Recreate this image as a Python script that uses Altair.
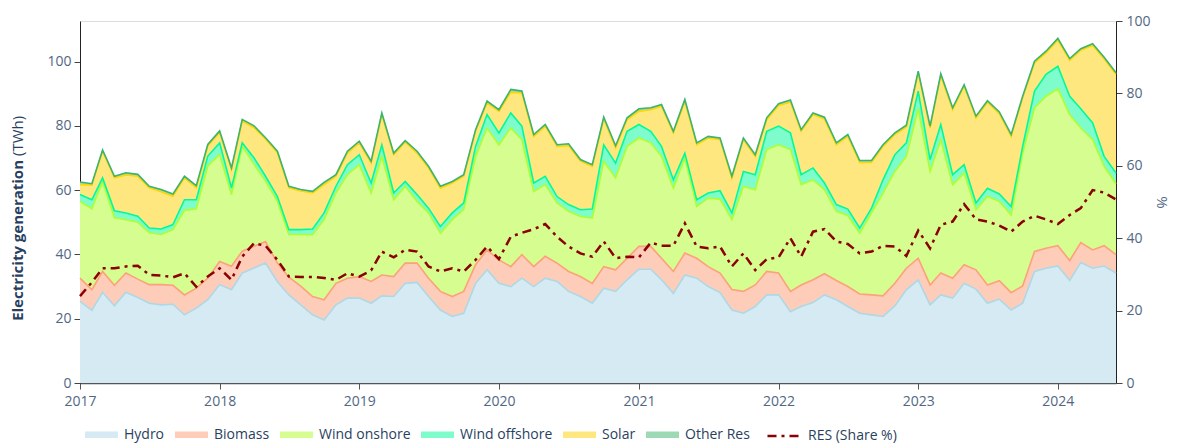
import altair as alt
import pandas as pd

months = pd.date_range("2017-01-01", "2024-06-01", freq="MS").strftime("%Y-%m-%d").tolist()

hydro = [25.4, 22.6, 28.2, 24.0, 28.2, 26.6, 24.8, 24.3, 24.5, 21.2, 23.3, 25.9,
         30.6, 29.0, 34.2, 35.8, 37.3, 31.5, 27.4, 24.3, 21.2, 19.6, 24.3, 26.4,
         26.4, 24.8, 27.1, 26.9, 31.0, 31.3, 26.9, 22.7, 20.7, 21.7, 31.0, 35.2,
         31.0, 30.0, 32.6, 30.0, 32.6, 31.6, 28.5, 26.9, 24.8, 29.5, 28.5, 32.1,
         35.4, 35.4, 32.1, 27.9, 33.6, 32.6, 30.0, 28.1, 22.7, 21.7, 23.8, 27.4,
         27.4, 22.2, 23.8, 25.0, 27.4, 25.9, 23.8, 21.7, 21.2, 20.7, 24.0, 29.0,
         32.1, 24.3, 27.4, 26.4, 31.0, 29.2, 24.8, 26.1, 22.7, 24.8, 34.7, 35.7,
         36.4, 31.9, 37.5, 35.7, 36.4, 34.2]
biomass = [7.2, 6.4, 6.5, 6.4, 6.0, 5.7, 5.8, 6.3, 5.9, 6.2, 6.2, 6.7,
           7.2, 7.3, 6.8, 6.7, 6.7, 5.8, 5.5, 5.8, 5.7, 6.3, 6.7, 6.2,
           6.7, 6.8, 6.5, 6.2, 6.3, 6.0, 5.7, 5.8, 6.2, 6.8, 5.8, 6.2,
           7.3, 6.2, 7.3, 6.2, 6.8, 5.7, 6.2, 6.2, 6.2, 6.7, 6.7, 6.7,
           7.1, 7.1, 6.7, 6.8, 6.8, 6.2, 6.2, 6.1, 6.4, 6.8, 6.7, 7.3,
           6.8, 6.3, 6.7, 7.1, 6.6, 6.0, 6.2, 6.0, 6.2, 6.4, 7.0, 6.7,
           6.7, 6.2, 6.8, 6.2, 5.8, 6.0, 5.7, 5.7, 5.4, 5.4, 6.2, 6.2,
           6.3, 6.2, 6.2, 5.7, 6.3, 5.7]
wind_onshore = [23.9, 25.2, 28.1, 21.0, 16.6, 17.7, 16.1, 15.6, 17.3, 26.3, 24.7, 34.9,
                33.3, 22.3, 32.7, 25.5, 18.8, 19.2, 13.3, 16.1, 19.2, 24.9, 28.1, 32.2,
                34.8, 27.5, 36.9, 23.9, 23.9, 19.2, 20.3, 18.1, 23.9, 25.5, 33.7, 37.9,
                35.8, 43.1, 35.8, 23.4, 22.3, 18.7, 18.7, 18.7, 20.3, 32.8, 28.6, 34.8,
                33.7, 32.2, 31.7, 25.9, 29.6, 16.1, 21.3, 23.0, 21.7, 32.7, 29.6, 37.9,
                39.9, 44.1, 31.2, 31.1, 26.1, 21.5, 22.1, 18.9, 25.5, 32.0, 34.8, 34.8,
                46.5, 35.3, 41.5, 29.1, 28.5, 18.7, 27.5, 24.7, 24.2, 41.3, 44.7, 47.3,
                48.8, 45.4, 35.6, 34.3, 24.7, 22.1]
wind_offshore = [2.1, 2.8, 1.0, 2.2, 2.1, 1.9, 1.5, 1.7, 1.6, 3.3, 2.8, 3.1,
                 3.6, 2.1, 1.0, 2.0, 1.5, 1.5, 1.5, 1.5, 1.8, 2.1, 2.1, 3.1,
                 3.1, 3.1, 3.6, 2.1, 1.5, 2.1, 1.5, 2.1, 2.1, 2.0, 3.1, 4.2,
                 3.7, 4.7, 4.2, 2.6, 2.6, 2.0, 2.1, 2.1, 2.8, 5.1, 4.6, 4.7,
                 4.2, 3.6, 3.1, 2.6, 1.5, 2.1, 1.6, 2.6, 2.1, 4.6, 4.7, 5.7,
                 5.8, 5.2, 3.1, 3.7, 2.1, 2.1, 2.0, 1.6, 1.5, 4.1, 5.2, 4.2,
                 5.5, 3.7, 4.7, 3.1, 2.6, 2.1, 2.6, 2.3, 2.6, 2.1, 5.2, 6.8,
                 7.0, 5.7, 6.0, 5.2, 3.1, 3.3]
solar = [3.1, 4.5, 8.3, 10.2, 11.8, 12.4, 12.5, 11.6, 8.8, 6.8, 3.7, 3.1,
         3.2, 5.7, 6.8, 9.4, 11.5, 13.6, 13.0, 12.0, 11.2, 8.8, 3.1, 3.6,
         3.7, 6.2, 9.4, 11.9, 12.2, 12.9, 12.5, 11.9, 9.3, 8.3, 4.7, 3.6,
         6.7, 6.4, 10.3, 14.5, 15.6, 15.6, 18.3, 15.1, 13.3, 8.0, 4.7, 3.6,
         4.1, 6.7, 12.5, 14.6, 16.1, 17.1, 17.1, 15.9, 10.8, 9.9, 5.7, 3.6,
         6.4, 9.5, 13.5, 16.6, 19.9, 18.6, 22.6, 20.4, 14.2, 10.4, 6.3, 4.9,
         5.7, 9.8, 15.2, 20.2, 24.4, 26.5, 26.7, 25.0, 21.8, 15.1, 8.8, 6.7,
         8.1, 11.2, 18.2, 24.1, 30.3, 30.7]
other_res = [0.8, 0.5, 0.4, 0.5, 0.7, 0.6, 0.5, 0.7, 0.7, 0.5, 0.7, 0.5,
             0.5, 0.5, 0.5, 0.6, 0.5, 0.5, 0.5, 0.5, 0.5, 0.7, 0.5, 0.6,
             0.5, 0.6, 0.5, 0.5, 0.5, 0.6, 0.5, 0.6, 0.5, 0.5, 0.5, 0.6,
             0.5, 0.9, 0.6, 0.6, 0.5, 0.5, 0.6, 0.5, 0.5, 0.6, 0.7, 0.6,
             0.8, 0.6, 0.5, 0.5, 0.6, 0.6, 0.5, 0.5, 0.6, 0.5, 0.5, 0.6,
             0.6, 0.7, 0.5, 0.5, 0.6, 0.6, 0.6, 0.6, 0.6, 0.5, 0.5, 0.6,
             0.5, 0.6, 0.6, 0.6, 0.5, 0.5, 0.5, 0.5, 0.6, 0.5, 0.5, 0.5,
             0.6, 0.5, 0.5, 0.5, 0.5, 0.5]
res_share = [24.0, 27.8, 31.7, 31.7, 32.2, 32.4, 29.9, 29.7, 29.2, 30.3, 26.6, 29.4,
             31.7, 28.5, 34.9, 38.6, 37.9, 34.0, 29.4, 29.3, 29.3, 29.0, 28.5, 30.3,
             29.4, 31.1, 36.3, 34.7, 36.8, 36.3, 32.2, 30.8, 31.7, 30.8, 34.0, 37.7,
             34.2, 40.4, 41.5, 42.5, 43.9, 40.4, 37.7, 35.8, 34.9, 39.1, 34.5, 34.9,
             34.7, 38.8, 37.9, 37.9, 44.1, 37.7, 37.2, 37.7, 32.2, 35.8, 31.2, 34.2,
             34.7, 40.0, 34.9, 41.8, 42.5, 39.1, 38.4, 35.8, 36.3, 37.9, 37.7, 35.1,
             42.1, 37.2, 43.7, 44.6, 49.4, 45.2, 44.6, 43.5, 41.8, 44.6, 46.2, 45.2,
             43.9, 46.4, 48.3, 53.3, 52.6, 50.7]

series_names = ["Hydro", "Biomass", "Wind onshore", "Wind offshore", "Solar", "Other Res"]
series_values = [hydro, biomass, wind_onshore, wind_offshore, solar, other_res]
fill_colors = ["#d5eaf2", "#fdcdb9", "#d5fd8f", "#7ffccc", "#ffe780", "#9dd9b4"]
edge_colors = ["#add8e6", "#ffa07a", "#adff2f", "#00fa9a", "#ffd700", "#3cb371"]
share_label = "RES (Share %)"
year_ticks = list(range(2017, 2025))

rows = []
for k, (name, vals) in enumerate(zip(series_names, series_values)):
    for d, v in zip(months, vals):
        rows.append({"date": d, "series": name, "value": v, "order": k, "edge": edge_colors[k]})
df = pd.DataFrame(rows)
share_df = pd.DataFrame({"date": months, "share": res_share, "label": share_label})

FONT = "Open Sans"
LABEL_COLOR = "#506784"
TITLE_COLOR = "#2a3f5f"

x_enc = alt.X(
    "date:T",
    scale=alt.Scale(type="utc", nice=False,
                    domain=[alt.DateTime(year=2017, month=1, date=1, utc=True),
                            alt.DateTime(year=2024, month=6, date=1, utc=True)]),
    axis=alt.Axis(values=[alt.DateTime(year=y, month=1, date=1, utc=True) for y in year_ticks],
                  format="%Y", title=None, domainColor="#555", domainWidth=1.5,
                  tickColor="#555", tickSize=6, labelPadding=5, labelFontSize=14,
                  labelFlush=False, labelOverlap=False,
                  labelColor=LABEL_COLOR, labelFont=FONT, grid=False),
)

left_scale = alt.Scale(domain=[0, 112.6], nice=False, zero=True)
left_axis = alt.Axis(values=[0, 20, 40, 60, 80, 100], title=None, domainColor="#222",
                     tickColor="#444", tickSize=6, labelPadding=3, labelFontSize=14,
                     labelColor=LABEL_COLOR, labelFont=FONT, grid=False)

base = alt.Chart(df).transform_stack(
    stack="value", groupby=["date"], as_=["y0", "y1"],
    sort=[alt.SortField(field="order", order="ascending")],
)

area = base.mark_area(opacity=1, interpolate="linear").encode(
    x=x_enc,
    y=alt.Y("y0:Q", scale=left_scale, axis=left_axis),
    y2="y1:Q",
    color=alt.Color("series:N", scale=alt.Scale(domain=series_names, range=fill_colors),
                    legend=alt.Legend(title=None, orient="none", legendX=5, legendY=397,
                                      direction="horizontal", columns=6,
                                      symbolType="M-1,-0.2H1V0.2H-1Z", symbolSize=1089,
                                      symbolStrokeWidth=0, symbolOpacity=1,
                                      labelFontSize=14, labelFont=FONT, labelColor=TITLE_COLOR,
                                      labelOffset=6, columnPadding=10)),
)

edges = base.mark_line(strokeWidth=1.6, interpolate="linear").encode(
    x=x_enc,
    y=alt.Y("y1:Q", scale=left_scale, axis=left_axis),
    detail="series:N",
    color=alt.Color("edge:N", scale=None),
)

left = alt.layer(area, edges)

share = alt.Chart(share_df).mark_line(color="#8b0000", strokeWidth=2.5).encode(
    x=x_enc,
    y=alt.Y("share:Q", scale=alt.Scale(domain=[0, 100], nice=False),
            axis=alt.Axis(orient="right", values=[0, 20, 40, 60, 80, 100], title="%",
                          titleFontSize=15, titleFontWeight="normal", titleColor=LABEL_COLOR,
                          titleFont=FONT, titlePadding=3, domainColor="#222",
                          tickColor="#444", tickSize=6, labelPadding=4, labelFontSize=14,
                          labelColor=LABEL_COLOR, labelFont=FONT, grid=False)),
    strokeDash=alt.StrokeDash("label:N",
                              scale=alt.Scale(domain=[share_label], range=[[9, 5, 3, 5]]),
                              legend=alt.Legend(title=None, orient="none", legendX=686, legendY=397,
                                                symbolType="stroke", symbolSize=1089,
                                                symbolStrokeWidth=2.5, symbolStrokeColor="#8b0000",
                                                labelFontSize=14, labelFont=FONT,
                                                labelColor=TITLE_COLOR, labelOffset=6)),
)

title_bold = alt.Chart(pd.DataFrame({"t": ["Electricity generation"]})).mark_text(
    angle=270, align="right", baseline="middle", fontSize=15, fontWeight="bold",
    font=FONT, color=TITLE_COLOR,
).encode(x=alt.value(-62), y=alt.value(139), text="t:N")

title_unit = alt.Chart(pd.DataFrame({"t": ["(TWh)"]})).mark_text(
    angle=270, align="left", baseline="middle", fontSize=15, fontWeight="normal",
    font=FONT, color=TITLE_COLOR,
).encode(x=alt.value(-62), y=alt.value(135), text="t:N")

chart = alt.layer(left, share, title_bold, title_unit).resolve_scale(
    y="independent"
).properties(
    width=1036, height=362,
    padding={"left": 72, "top": 13, "right": 56, "bottom": 60},
    autosize=alt.AutoSizeParams(type="none"),
).configure_view(strokeWidth=0).configure(font=FONT)

chart.save("out.html", embed_options={"renderer": "svg", "actions": False})
